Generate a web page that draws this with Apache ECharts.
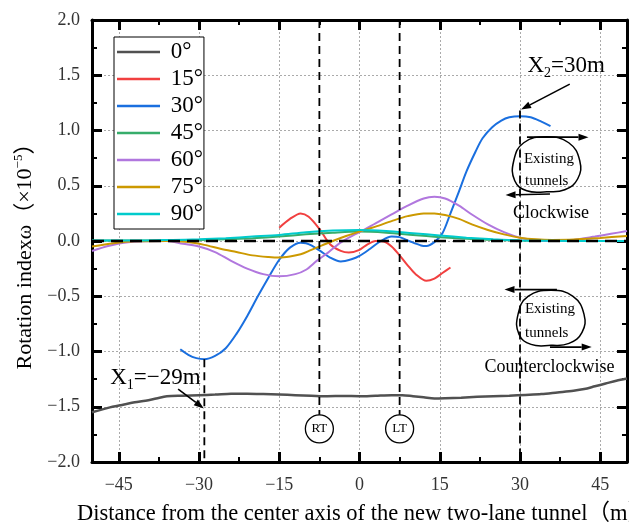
<!DOCTYPE html>
<html><head><meta charset="utf-8">
<script src="https://cdn.jsdelivr.net/npm/echarts@6/dist/echarts.min.js"></script>
<style>html,body{margin:0;padding:0;background:#fff}#c{width:629px;height:526px}</style>
</head><body><div id="c"></div>
<script>
// ---------- data ----------
const xMajorTicks = [-45, -30, -15, 0, 15, 30, 45];
const xMinorTicks = [-37.5, -22.5, -7.5, 7.5, 22.5, 37.5];
const seriesNames = ['0°', '15°', '30°', '45°', '60°', '75°', '90°'];
const seriesColors = ['#515151', '#F14040', '#1A6FDF', '#37AD6B', '#B177DE', '#CC9900', '#00CBCC'];

const deg0 = [[-50,-1.55],[-47,-1.51],[-44,-1.48],[-42,-1.46],[-40,-1.445],[-38,-1.425],[-36,-1.405],[-33,-1.40],[-30,-1.395],[-27,-1.39],[-24,-1.383],[-21,-1.382],[-18,-1.385],[-15,-1.39],[-12,-1.395],[-9,-1.40],[-6,-1.405],[-3,-1.402],[0,-1.405],[3,-1.40],[6,-1.395],[8,-1.395],[10,-1.405],[12,-1.415],[14,-1.425],[16,-1.423],[19,-1.418],[22,-1.41],[25,-1.405],[28,-1.40],[31,-1.393],[34,-1.385],[37,-1.37],[40,-1.355],[42,-1.34],[44,-1.315],[46,-1.29],[48,-1.265],[50,-1.245]];
const deg15 = [[-15,0.12],[-13,0.2],[-11,0.25],[-9.5,0.22],[-7.5,0.11],[-5.5,-0.03],[-3.5,-0.09],[-2,-0.105],[0,-0.08],[1.5,-0.03],[3,0.0],[4.5,-0.005],[6,-0.05],[7.5,-0.13],[9,-0.22],[10.5,-0.30],[12.5,-0.36],[14,-0.34],[15.5,-0.29],[17,-0.24]];
const deg30 = [[-33.5,-0.98],[-32,-1.03],[-30.5,-1.06],[-29,-1.07],[-27,-1.04],[-25,-0.97],[-23,-0.84],[-21,-0.68],[-19,-0.50],[-17,-0.33],[-15,-0.17],[-13,-0.06],[-11,-0.015],[-10,-0.02],[-9,-0.04],[-7.5,-0.085],[-5.5,-0.15],[-3.5,-0.185],[-1.5,-0.165],[0,-0.135],[2,-0.07],[4,0.0],[6,0.04],[7.5,0.035],[9.5,-0.005],[11.5,-0.04],[12.5,-0.045],[14,-0.01],[15.5,0.07],[17,0.25],[18.6,0.45],[20,0.63],[21.7,0.81],[23,0.93],[24.8,1.03],[26.5,1.09],[28,1.12],[30,1.13],[32,1.12],[34,1.08],[35.7,1.04]];
const deg45 = [[-50,0.005],[-40,0.005],[-35,0.008],[-30,0.01],[-25,0.015],[-20,0.025],[-15,0.04],[-10,0.06],[-5,0.075],[0,0.085],[5,0.075],[10,0.055],[15,0.035],[20,0.02],[25,0.01],[30,0.005],[40,0.0],[50,0.0]];
const deg60 = [[-50,-0.09],[-47,-0.045],[-44,-0.015],[-40,-0.002],[-36,0.0],[-33,-0.025],[-30,-0.05],[-27,-0.10],[-24,-0.18],[-21,-0.25],[-18,-0.30],[-15,-0.32],[-12,-0.30],[-10,-0.26],[-8,-0.18],[-6,-0.11],[-4,-0.03],[-2,0.03],[0,0.08],[3,0.16],[6,0.24],[9,0.32],[12,0.385],[14,0.40],[16,0.385],[18.6,0.32],[21,0.24],[24,0.15],[27,0.08],[30,0.03],[33,0.007],[36,0.0],[40,0.01],[44,0.04],[47,0.065],[50,0.09]];
const deg75 = [[-50,-0.05],[-46,-0.02],[-42,-0.003],[-36,0.0],[-32,-0.01],[-29,-0.035],[-26,-0.07],[-23,-0.10],[-20,-0.13],[-17,-0.145],[-15,-0.15],[-13,-0.14],[-11,-0.12],[-9,-0.08],[-7,-0.04],[-5,0.0],[-2.5,0.045],[0,0.085],[3,0.13],[6,0.18],[9,0.225],[12,0.25],[14,0.25],[16,0.235],[18.6,0.20],[21,0.15],[24,0.10],[27,0.06],[30,0.03],[33,0.015],[36,0.01],[40,0.013],[45,0.028],[50,0.045]];
const deg90 = [[-50,0.005],[-40,0.005],[-35,0.01],[-30,0.015],[-25,0.025],[-20,0.04],[-15,0.055],[-10,0.08],[-5,0.095],[0,0.10],[5,0.09],[10,0.07],[15,0.05],[20,0.03],[25,0.015],[30,0.005],[40,0.0],[50,0.0]];
const allSeries = [deg0, deg15, deg30, deg45, deg60, deg75, deg90];

// reference lines (x positions of tunnel axes and extreme points)
const tunnelAxisX = [-7.5, 7.5];          // RT, LT
const tunnelLabels = ['RT', 'LT'];
const extremeX = [-29, 30];               // X1, X2
const extremeY = [-1.07, 1.18];

// ---------- chart ----------
const FONT = "'Liberation Serif','Times New Roman','Noto Sans CJK SC',serif";
const chart = echarts.init(document.getElementById('c'), null, {renderer: 'canvas'});
const fmt = v => String(Math.abs(v) < 1e-9 ? 0 : v).replace('-', '\u2212');
const fmtY = v => v.toFixed(1).replace('-', '\u2212');

const gridLine = {show: true, lineStyle: {color: '#aaa', width: 1, type: [2, 2]}};
const axisLineStyle = {show: true, onZero: false, lineStyle: {color: '#000', width: 3}};

function xAx(pos, major, extra) {
  return Object.assign({
    type: 'value', min: -50, max: 50, position: pos, gridIndex: 0,
    axisLine: major ? axisLineStyle : {show: false, onZero: false},
    axisTick: {show: true, inside: true, length: major ? 10 : 5,
      lineStyle: {color: '#000', width: major ? 3 : 2},
      customValues: major ? xMajorTicks : xMinorTicks},
    axisLabel: {show: false},
    splitLine: {show: false}
  }, extra || {});
}

const series = allSeries.map((d, i) => ({
  name: seriesNames[i], type: 'line', data: d, smooth: 0.3,
  showSymbol: false, symbol: 'none', z: 3,
  lineStyle: {color: seriesColors[i], width: i === 0 ? 2.5 : 2},
  itemStyle: {color: seriesColors[i]}, silent: true
}));

// zero line
series.push({name: 'zero', type: 'line', data: [[-50, 0], [50, 0]], symbol: 'none', silent: true, z: 6,
  lineStyle: {color: '#000', width: 2.5, type: [12, 7]}});
// tunnel axis lines
tunnelAxisX.forEach(x => series.push({name: 'ax' + x, type: 'line', data: [[x, 2], [x, -1.575]], symbol: 'none', silent: true, z: 5,
  lineStyle: {color: '#000', width: 1.8, type: [8, 5]}}));
// extreme marker lines
extremeX.forEach((x, i) => series.push({name: 'ex' + x, type: 'line', data: [[x, extremeY[i]], [x, -2]], symbol: 'none', silent: true, z: 5,
  lineStyle: {color: '#000', width: 1.8, type: [8, 5]}}));

chart.setOption({
  animation: false,
  backgroundColor: '#fff',
  grid: {left: 92, right: 2, top: 20, bottom: 64, containLabel: false, outerBoundsMode: 'none'},
  legend: {
    orient: 'vertical', left: 114, top: 37, data: seriesNames,
    icon: 'rect', itemWidth: 43, itemHeight: 2.5, itemGap: 3,
    formatter: n => ' ' + n,
    textStyle: {fontSize: 23, fontFamily: FONT, color: '#000', lineHeight: 24},
    borderColor: '#000', borderWidth: 1, padding: [3, 1, 3, 3], backgroundColor: '#fff'
  },
  xAxis: [
    xAx('bottom', true, {
      axisLabel: {show: true, customValues: xMajorTicks, formatter: fmt, fontSize: 18, fontFamily: FONT, color: '#333', margin: 14},
      splitLine: gridLine,
      name: 'Distance from the center axis of the new two-lane tunnel（m）',
      nameLocation: 'middle', nameGap: 41,
      nameTextStyle: {fontSize: 22.5, fontFamily: FONT, color: '#000', padding: [0, 0, 0, 8]}
    }),
    xAx('bottom', false),
    xAx('top', true),
    xAx('top', false)
  ],
  yAxis: [
    {type: 'value', min: -2, max: 2, interval: 0.5, position: 'left',
      axisLine: axisLineStyle,
      axisTick: {inside: true, length: 10, lineStyle: {color: '#000', width: 3}},
      minorTick: {show: true, splitNumber: 2, length: 5, lineStyle: {color: '#000', width: 2}},
      axisLabel: {formatter: fmtY, fontSize: 18, fontFamily: FONT, color: '#333', margin: 12},
      splitLine: gridLine,
      name: '{a|Rotation indexω（×10}{s|−5}{a|）}', nameLocation: 'middle', nameGap: 53, nameRotate: 90,
      nameTextStyle: {padding: [0, 20, 0, 0], rich: {
        a: {fontSize: 22, fontFamily: FONT, color: '#000', lineHeight: 26},
        s: {fontSize: 13, fontFamily: FONT, color: '#000', verticalAlign: 'top', lineHeight: 26}
      }}
    },
    {type: 'value', min: -2, max: 2, interval: 0.5, position: 'right',
      axisLine: axisLineStyle,
      axisTick: {inside: true, length: 10, lineStyle: {color: '#000', width: 3}},
      minorTick: {show: true, splitNumber: 2, length: 5, lineStyle: {color: '#000', width: 2}},
      axisLabel: {show: false}, splitLine: {show: false}
    }
  ],
  series: series
});

// ---------- annotations (anchored in data space) ----------
const P = (x, y) => chart.convertToPixel({gridIndex: 0}, [x, y]);
const g = [];
function arrow(a, b) {
  const [x1, y1] = P(a[0], a[1]);
  const [x2, y2] = P(b[0], b[1]);
  const ang = Math.atan2(y2 - y1, x2 - x1), L = 10, W = 3.5;
  const c = Math.cos(ang), s = Math.sin(ang);
  const bx = x2 - L * c, by = y2 - L * s;
  g.push({type: 'line', z: 100, shape: {x1, y1, x2: bx, y2: by}, style: {stroke: '#000', lineWidth: 1.6}});
  g.push({type: 'polygon', z: 100, shape: {points: [[x2, y2], [bx - W * s, by + W * c], [bx + W * s, by - W * c]]}, style: {fill: '#000'}});
}
function text(pt, str, size, align, rich) {
  const [x, y] = P(pt[0], pt[1]);
  const st = {text: str, fontSize: size, fontFamily: FONT, fill: '#000', align: align || 'center', verticalAlign: 'middle'};
  if (rich) st.rich = rich;
  g.push({type: 'text', z: 101, x, y, style: st});
}
function tunnel(c) {
  const [cx, cy] = P(c[0], c[1]);
  const rel = [[0, -28], [22, -22], [33, -4], [31, 14], [18, 25], [0, 27], [-20, 26], [-32, 16], [-33, -4], [-23, -22]];
  g.push({type: 'polygon', z: 100, shape: {points: rel.map(p => [cx + p[0], cy + p[1]]), smooth: 0.45},
    style: {fill: 'none', stroke: '#000', lineWidth: 1.5}});
}
const subRich = {a: {fontSize: 23, fontFamily: FONT, fill: '#000', lineHeight: 28}, b: {fontSize: 14, fontFamily: FONT, fill: '#000', lineHeight: 28, verticalAlign: 'bottom'}};
// X2 annotation
text([31.4, 1.58], '{a|X}{b|2}{a|=30m}', 23, 'left', subRich);
arrow([39.3, 1.42], [30.2, 1.19]);
// X1 annotation
text([-46.6, -1.24], '{a|X}{b|1}{a|=\u221229m}', 23, 'left', subRich);
arrow([-33.9, -1.34], [-29.1, -1.515]);
// RT / LT circles
tunnelAxisX.forEach((x, i) => {
  const [cx, cy] = P(x, -1.70);
  g.push({type: 'circle', z: 100, shape: {cx, cy, r: 14}, style: {fill: '#fff', stroke: '#000', lineWidth: 1.3}});
  g.push({type: 'text', z: 101, x: cx, y: cy, style: {text: tunnelLabels[i], fontSize: 13, fontFamily: FONT, fill: '#000', align: 'center', verticalAlign: 'middle'}});
});
// clockwise tunnel
tunnel([35.0, 0.69]);
arrow([31.3, 0.94], [42.8, 0.94]);
arrow([35.6, 0.425], [27.3, 0.417]);
text([35.4, 0.74], 'Existing', 15);
text([35.0, 0.54], 'tunnels', 15);
text([35.8, 0.25], 'Clockwise', 18);
// counterclockwise tunnel
tunnel([35.8, -0.70]);
arrow([36.9, -0.44], [27.1, -0.44]);
arrow([35.6, -0.96], [43.4, -0.96]);
text([35.6, -0.62], 'Existing', 15);
text([35.0, -0.83], 'tunnels', 15);
text([35.5, -1.14], 'Counterclockwise', 18);

chart.setOption({graphic: g});
</script>
</body></html>
